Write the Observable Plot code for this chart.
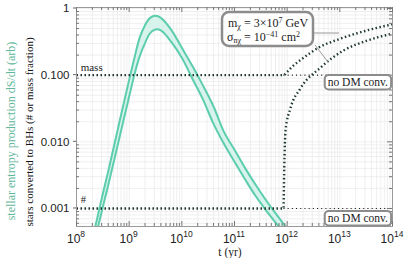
<!DOCTYPE html>
<html><head><meta charset="utf-8">
<script src="https://cdn.jsdelivr.net/npm/d3@7"></script>
<script src="https://cdn.jsdelivr.net/npm/@observablehq/plot@0.6"></script>
<style>body{margin:0;background:#fff} svg{display:block}</style>
</head><body><div id="chart"></div>
<script>
// ---- data ----
const times = [2.0e8, 2.5e8, 3.16e8, 4.0e8, 6.3e8, 1.0e9, 1.26e9, 1.58e9, 2.0e9, 2.5e9, 3.16e9, 4.0e9, 6.3e9, 1.0e10, 1.58e10, 2.5e10, 4.0e10, 6.3e10, 1.0e11, 1.58e11, 2.5e11, 4.0e11, 6.3e11, 1.0e12];
const entropyHigh = [3.4e-4, 7.4e-4, 1.66e-3, 3.6e-3, 0.0174, 0.085, 0.182, 0.363, 0.562, 0.724, 0.776, 0.724, 0.479, 0.257, 0.138, 0.0708, 0.0339, 0.0141, 0.00759, 0.00407, 0.00229, 0.00132, 8.1e-4, 5.0e-4];
const entropyLow  = [2.3e-4, 4.9e-4, 1.05e-3, 2.24e-3, 0.0102, 0.0479, 0.102, 0.191, 0.302, 0.427, 0.484, 0.468, 0.316, 0.182, 0.0891, 0.0437, 0.0186, 0.00933, 0.00501, 0.00275, 0.00155, 9.3e-4, 5.9e-4, 3.8e-4];

const massTimes = [1e8, 8.5e11, 1.0e12, 1.26e12, 2.0e12, 4.0e12, 1.0e13, 3.0e13, 1.0e14];
const massFrac  = [0.1, 0.1, 0.112, 0.135, 0.18, 0.26, 0.35, 0.46, 0.58];
const numTimes  = [1e8, 8.5e11, 8.8e11, 9.3e11, 1.15e12, 1.78e12, 4.3e12, 1.17e13, 3.3e13, 1.0e14];
const numFrac   = [0.001, 0.001, 0.004, 0.0148, 0.0316, 0.063, 0.13, 0.234, 0.33, 0.42];

const noDMTimes = [8.5e11, 1.0e14];
const noDMMass  = [0.1, 0.1];
const noDMNum   = [0.001, 0.001];

const xTicks = [1e8, 1e9, 1e10, 1e11, 1e12, 1e13, 1e14];
const xTickExp = ["8", "9", "10", "11", "12", "13", "14"];
const yTicks = [1, 0.1, 0.01, 0.001];
const yTickLabels = ["1", "0.100", "0.010", "0.001"];

const xTitle = "t (yr)";
const yTitleGreen = "stellar entropy production dS/dt (arb)";
const yTitleBlack = "stars converted to BHs (# or mass fraction)";
const noDMLabel = "no DM conv.";

// ---- tables built from the arrays ----
const band = times.map((t, i) => ({t, hi: entropyHigh[i], lo: entropyLow[i]}));
const massDM = massTimes.map((t, i) => ({t, v: massFrac[i]}));
const numDM = numTimes.map((t, i) => ({t, v: numFrac[i]}));
const noDM = noDMTimes.map((t, i) => ({t, m: noDMMass[i], n: noDMNum[i]}));

const yDomain = [5.37e-4, 1.035];
const minorX = [];
for (let e = 8; e < 14; e++) for (let m = 2; m < 10; m++) minorX.push(m * 10 ** e);
const minorY = [];
for (let e = -4; e <= 0; e++) for (let m = 2; m < 10; m++) { const v = m * 10 ** e; if (v > yDomain[0] && v < yDomain[1]) minorY.push(v); }

const W = 407, H = 258, mL = 76, mR = 15, mT = 7, mB = 32;
const fw = W - mL - mR, fh = H - mT - mB;

const green = "#5ccdad";
const dotCol = "#1f3a2c";
const dotStyle = {stroke: dotCol, strokeWidth: 2.4, strokeDasharray: "1.5,2.5", strokeLinecap: "butt"};

const plot = Plot.plot({
  width: W, height: H,
  marginLeft: mL, marginRight: mR, marginTop: mT, marginBottom: mB,
  x: {type: "log", domain: [1e8, 1e14], axis: null},
  y: {type: "log", domain: yDomain, axis: null},
  style: {fontFamily: "'Liberation Sans', Arial, sans-serif", fontSize: "11px", color: "#222", background: "white", overflow: "visible"},
  marks: [
    Plot.ruleX([...minorX, ...xTicks], {stroke: "#ebebeb", strokeWidth: 0.8}),
    Plot.ruleY([...minorY, ...yTicks], {stroke: "#ebebeb", strokeWidth: 0.8}),
    Plot.areaY(band, {x: "t", y1: "lo", y2: "hi", fill: "#d8f3eb", curve: "catmull-rom", clip: true}),
    Plot.line(band, {x: "t", y: "hi", stroke: green, strokeWidth: 2, curve: "catmull-rom", clip: true}),
    Plot.line(band, {x: "t", y: "lo", stroke: green, strokeWidth: 2, curve: "catmull-rom", clip: true}),
    Plot.line(noDM, {x: "t", y: "m", stroke: "#111", strokeWidth: 1.1, strokeDasharray: "1,3.2", strokeLinecap: "butt"}),
    Plot.line(noDM, {x: "t", y: "n", stroke: "#111", strokeWidth: 1.1, strokeDasharray: "1,3.2", strokeLinecap: "butt"}),
    Plot.line(massDM, {x: "t", y: "v", ...dotStyle, curve: "monotone-x", clip: true}),
    Plot.line(numDM, {x: "t", y: "v", ...dotStyle, curve: "monotone-x", clip: true}),
    Plot.frame({stroke: "#9a9a9a", strokeWidth: 1}),
    Plot.ruleX(minorX, {stroke: "#777", insetTop: fh - 3}),
    Plot.ruleX(minorX, {stroke: "#777", insetBottom: fh - 3}),
    Plot.ruleX(xTicks, {stroke: "#777", insetTop: fh - 5}),
    Plot.ruleX(xTicks, {stroke: "#777", insetBottom: fh - 5}),
    Plot.ruleY(minorY, {stroke: "#777", insetRight: fw - 3}),
    Plot.ruleY(minorY, {stroke: "#777", insetLeft: fw - 3}),
    Plot.ruleY(yTicks, {stroke: "#777", insetLeft: fw - 5}),
    Plot.text(yTicks, {y: d => d, frameAnchor: "left", dx: -7, textAnchor: "end", text: (d, i) => yTickLabels[i], fontSize: 11.5, fill: "#222"}),
    Plot.text(["mass"], {x: [1.2e8], y: [0.1], dy: -8, textAnchor: "start", text: d => d, fontFamily: "'Liberation Serif', serif", fontSize: 11, fill: "#222"}),
    Plot.text(["#"], {x: [1.2e8], y: [0.001], dy: -9, textAnchor: "start", text: d => d, fontFamily: "'Liberation Serif', serif", fontSize: 10.5, fill: "#222"})
  ]
});
document.getElementById("chart").appendChild(plot);

const xs = plot.scale("x");
const ys = plot.scale("y");
const svg = d3.select(plot);

yTicks.forEach(v => {
  const y = ys.apply(v);
  svg.append("line").attr("x1", mL - 3).attr("x2", mL).attr("y1", y).attr("y2", y).attr("stroke", "#666");
});

const gx = svg.append("g").attr("font-family", "'Liberation Sans', Arial, sans-serif").attr("fill", "#222").attr("text-anchor", "start");
xTicks.forEach((t, i) => {
  const cx = xs.apply(t);
  const base = gx.append("text").attr("text-anchor", "start").attr("y", H - mB + 17).attr("font-size", 12).text("10");
  const sup = gx.append("text").attr("text-anchor", "start").attr("y", H - mB + 11).attr("font-size", 8.5).text(xTickExp[i]);
  const wb = base.node().getComputedTextLength();
  const ws = sup.node().getComputedTextLength();
  const x0 = cx - (wb + ws) / 2;
  base.attr("x", x0);
  sup.attr("x", x0 + wb);
});

const serif = "'Liberation Serif', 'Times New Roman', serif";
svg.append("text").attr("x", 230).attr("y", H - 2).attr("text-anchor", "middle")
  .attr("font-family", serif).attr("font-size", 11.5).attr("fill", "#222").text(xTitle);
svg.append("text").attr("transform", "translate(15,131) rotate(-90)").attr("text-anchor", "middle")
  .attr("font-family", serif).attr("font-size", 12).attr("fill", "#5fb89b").text(yTitleGreen);
svg.append("text").attr("transform", "translate(33,132) rotate(-90)").attr("text-anchor", "middle")
  .attr("font-family", serif).attr("font-size", 11).attr("fill", "#111").text(yTitleBlack);

// annotation box with parameters
const ga = svg.append("g").attr("text-anchor", "start");
ga.append("line").attr("x1", 312).attr("y1", 33).attr("x2", 339).attr("y2", 33).attr("stroke", "#999").attr("stroke-width", 1);
ga.append("line").attr("x1", 315).attr("y1", 45).attr("x2", 328).attr("y2", 62).attr("stroke", "#999").attr("stroke-width", 1);
ga.append("rect").attr("x", 222).attr("y", 12).attr("width", 91).attr("height", 34).attr("rx", 7).attr("ry", 7)
  .attr("fill", "#ffffff").attr("stroke", "#8c8c8c").attr("stroke-width", 2.5);
const l1 = ga.append("text").attr("text-anchor", "start").attr("x", 228).attr("y", 27).attr("font-family", serif).attr("font-size", 12).attr("fill", "#222");
l1.append("tspan").text("m");
l1.append("tspan").attr("font-size", 8).attr("dy", 2).text("χ");
l1.append("tspan").attr("dy", -2).text(" = 3×10");
l1.append("tspan").attr("font-size", 8).attr("dy", -4.5).text("7");
l1.append("tspan").attr("dy", 4.5).text(" GeV");
const l2 = ga.append("text").attr("text-anchor", "start").attr("x", 227).attr("y", 41).attr("font-family", serif).attr("font-size", 12).attr("fill", "#222");
l2.append("tspan").text("σ");
l2.append("tspan").attr("font-size", 8).attr("dy", 2).text("nχ");
l2.append("tspan").attr("dy", -2).text(" = 10");
l2.append("tspan").attr("font-size", 8).attr("dy", -4.5).text("−41");
l2.append("tspan").attr("dy", 4.5).text(" cm");
l2.append("tspan").attr("font-size", 8).attr("dy", -4.5).text("2");

[75, 211].forEach(top => {
  const g = svg.append("g");
  const txt = g.append("text").attr("x", 388).attr("y", top + 11).attr("text-anchor", "end")
    .attr("font-family", serif).attr("font-size", 11.5).attr("fill", "#222").text(noDMLabel);
  const bb = txt.node().getBBox();
  g.insert("rect", "text").attr("x", bb.x - 3).attr("y", top).attr("width", bb.width + 6).attr("height", 14.5).attr("rx", 4)
    .attr("fill", "white").attr("stroke", "#8c8c8c").attr("stroke-width", 2);
});
</script></body></html>
